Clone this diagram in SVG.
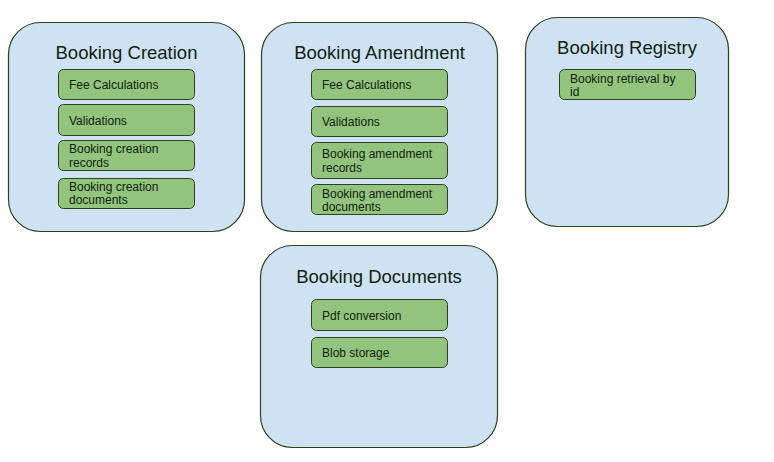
<svg xmlns="http://www.w3.org/2000/svg" width="774" height="462" viewBox="0 0 774 462">
<style>
.bg{fill:#ffffff}
.cont{fill:#cfe2f3;stroke:#2c3f1f;stroke-width:1.2}
.item{fill:#93c47d;stroke:#2c3f1f;stroke-width:1}
.title{font-family:"Liberation Sans",Arial,sans-serif;font-size:18.5px;fill:#112211;text-anchor:middle}
.lbl{font-family:"Liberation Sans",Arial,sans-serif;font-size:12px;fill:#112211}
</style>
<rect class="bg" x="0" y="0" width="774" height="462"/>
<g id="booking-creation">
<rect class="cont" x="8.5" y="22.5" width="236" height="209" rx="32"/>
<text class="title" x="126.5" y="59">Booking Creation</text>
<rect class="item" x="58.5" y="69.5" width="136" height="30" rx="5"/>
<text class="lbl" x="69" y="89">Fee Calculations</text>
<rect class="item" x="58.5" y="104.5" width="136" height="31" rx="5"/>
<text class="lbl" x="69" y="124.5">Validations</text>
<rect class="item" x="58.5" y="140.5" width="136" height="30" rx="5"/>
<text class="lbl" x="69" y="153">Booking creation</text>
<text class="lbl" x="69" y="167">records</text>
<rect class="item" x="58.5" y="178.5" width="136" height="30" rx="5"/>
<text class="lbl" x="69" y="190.5">Booking creation</text>
<text class="lbl" x="69" y="204">documents</text>
</g>
<g id="booking-amendment">
<rect class="cont" x="261.5" y="22.5" width="236" height="209" rx="32"/>
<text class="title" x="379.5" y="59">Booking Amendment</text>
<rect class="item" x="311.5" y="69.5" width="136" height="30" rx="5"/>
<text class="lbl" x="322" y="89">Fee Calculations</text>
<rect class="item" x="311.5" y="106.5" width="136" height="30" rx="5"/>
<text class="lbl" x="322" y="125.5">Validations</text>
<rect class="item" x="311.5" y="142.5" width="136" height="36" rx="5"/>
<text class="lbl" x="322" y="158">Booking amendment</text>
<text class="lbl" x="322" y="172">records</text>
<rect class="item" x="311.5" y="184.5" width="136" height="30" rx="5"/>
<text class="lbl" x="322" y="197.5">Booking amendment</text>
<text class="lbl" x="322" y="211">documents</text>
</g>
<g id="booking-registry">
<rect class="cont" x="525.5" y="17.5" width="203" height="209" rx="32"/>
<text class="title" x="627" y="54">Booking Registry</text>
<rect class="item" x="559.5" y="69.5" width="136" height="30" rx="5"/>
<text class="lbl" x="570" y="82.5">Booking retrieval by</text>
<text class="lbl" x="570" y="96">id</text>
</g>
<g id="booking-documents">
<rect class="cont" x="260.5" y="245.5" width="237" height="202" rx="32"/>
<text class="title" x="379" y="283">Booking Documents</text>
<rect class="item" x="311.5" y="299.5" width="136" height="31" rx="5"/>
<text class="lbl" x="322" y="319.5">Pdf conversion</text>
<rect class="item" x="311.5" y="337.5" width="136" height="30" rx="5"/>
<text class="lbl" x="322" y="357">Blob storage</text>
</g>
<g id="connectors"/>
</svg>
